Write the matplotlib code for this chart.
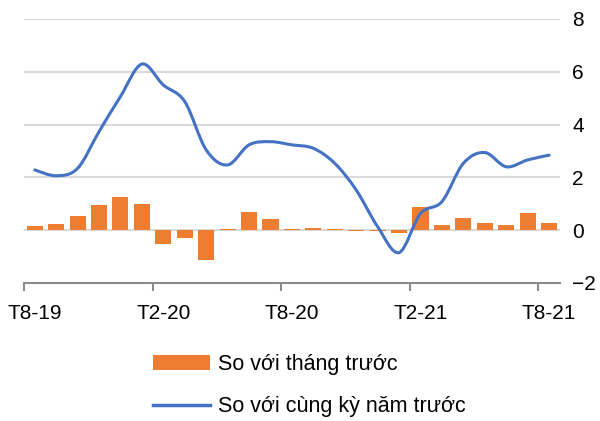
import numpy as np
import matplotlib
matplotlib.use("Agg")
import matplotlib.pyplot as plt
from matplotlib.path import Path
from matplotlib.patches import PathPatch, Patch
from matplotlib.lines import Line2D

plt.rcParams['font.family'] = ['Liberation Sans', 'DejaVu Sans']

# CPI theo tháng, T8-19 .. T8-21
thang = ["T8-19", "T9-19", "T10-19", "T11-19", "T12-19", "T1-20", "T2-20",
         "T3-20", "T4-20", "T5-20", "T6-20", "T7-20", "T8-20", "T9-20",
         "T10-20", "T11-20", "T12-20", "T1-21", "T2-21", "T3-21", "T4-21",
         "T5-21", "T6-21", "T7-21", "T8-21"]
so_thang_truoc = [0.16, 0.24, 0.53, 0.95, 1.24, 0.99, -0.54, -0.28, -1.13, 0.03,
                  0.67, 0.43, 0.03, 0.07, 0.03, -0.03, -0.05, -0.12, 0.89, 0.20,
                  0.47, 0.28, 0.18, 0.63, 0.28]
so_cung_ky = [2.28, 2.06, 2.34, 3.73, 5.06, 6.29, 5.50, 4.87, 3.04, 2.47,
              3.23, 3.35, 3.23, 3.10, 2.53, 1.52, 0.13, -0.85, 0.63, 1.08,
              2.53, 2.94, 2.40, 2.66, 2.84]
nhan_truc = ["T8-19", "T2-20", "T8-20", "T2-21", "T8-21"]

cam = "#ED7D31"
xanh = "#4472C4"

x = np.arange(len(thang))

fig = plt.figure(figsize=(6, 4.21), dpi=100)
ax = fig.add_axes([0.04, 0.328, 0.893, 0.627])

ax.bar(x, so_thang_truoc, width=0.75, color=cam, zorder=2)


def duong_cong(xs, ys):
    # Catmull-Rom -> Bezier, giống đường "smooth" của Excel
    pts = np.column_stack([xs, ys])
    verts = [pts[0]]
    codes = [Path.MOVETO]
    n = len(pts)
    for i in range(n - 1):
        p0 = pts[i - 1] if i > 0 else pts[i]
        p1 = pts[i]
        p2 = pts[i + 1]
        p3 = pts[i + 2] if i + 2 < n else pts[i + 1]
        c1 = p1 + (p2 - p0) / 6.0
        c2 = p2 - (p3 - p1) / 6.0
        verts += [c1, c2, p2]
        codes += [Path.CURVE4] * 3
    return Path(verts, codes)


ax.add_patch(PathPatch(duong_cong(x, so_cung_ky), facecolor="none",
                       edgecolor=xanh, lw=2.2, capstyle="round", zorder=3))

ax.set_xlim(-0.5, len(thang) - 0.5)
ax.set_ylim(-2, 8)
ax.set_yticks([-2, 0, 2, 4, 6, 8])
ax.yaxis.tick_right()
ax.tick_params(axis="y", length=0, pad=9, labelsize=15)
ax.grid(axis="y", color="#d9d9d9", lw=1.5, zorder=0)

# vạch chia giữa các tháng, nhãn đặt ở giữa tháng
vi_tri = [thang.index(t) for t in nhan_truc]
ax.set_xticks([v - 0.5 for v in vi_tri])
ax.set_xticklabels([])
ax.set_xticks(vi_tri, minor=True)
ax.set_xticklabels(nhan_truc, minor=True)
ax.tick_params(axis="x", which="major", length=6, width=1.5, color="#8c8c8c",
               direction="out")
ax.tick_params(axis="x", which="minor", length=0, pad=15, labelsize=15)

for s in ["top", "left", "right"]:
    ax.spines[s].set_visible(False)
ax.spines["bottom"].set_color("#8c8c8c")
ax.spines["bottom"].set_linewidth(1.5)

handles = [Patch(facecolor=cam, edgecolor="none"),
           Line2D([0], [0], color=xanh, lw=2.5)]
fig.legend(handles, ["So với tháng trước", "So với cùng kỳ năm trước"],
           loc="upper left", bbox_to_anchor=(0.255, 0.16), frameon=False,
           fontsize=15.5, handlelength=2.65, handletextpad=0.35, labelspacing=1.0,
           borderpad=0, borderaxespad=0)

fig.savefig("out.png", dpi=100)
